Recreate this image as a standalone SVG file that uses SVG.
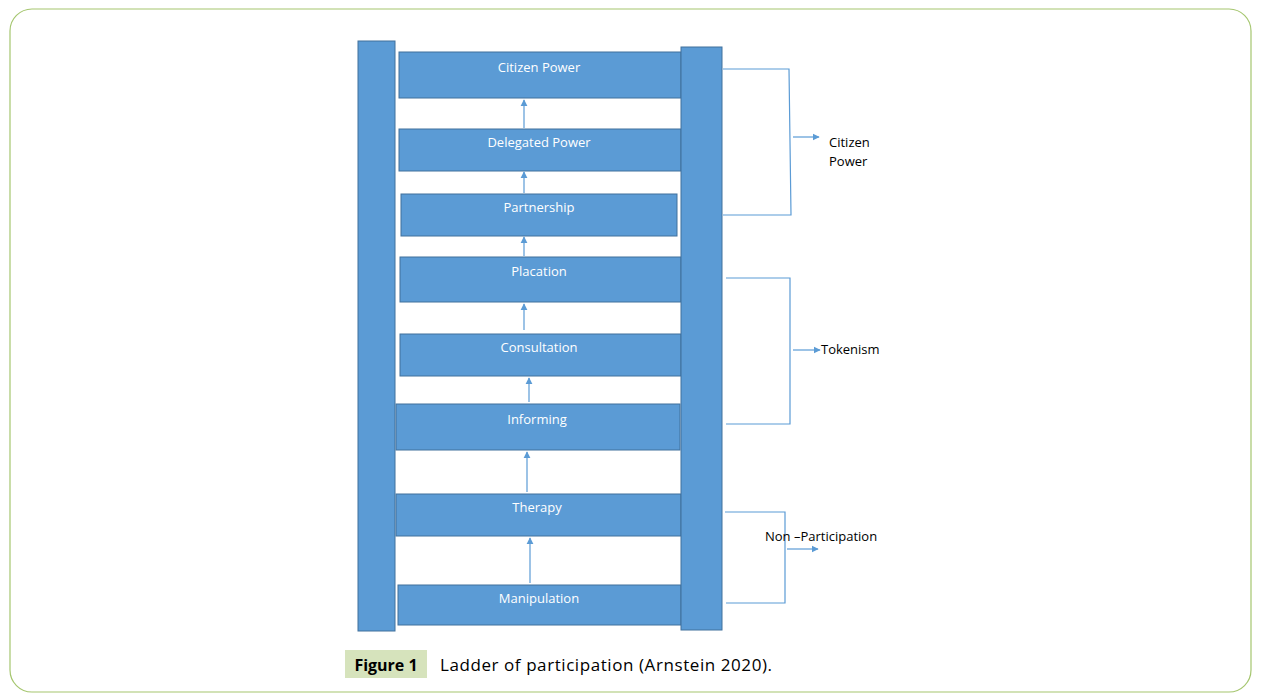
<svg xmlns="http://www.w3.org/2000/svg" width="1268" height="698" viewBox="0 0 1268 698">
<style>
.b{fill:#5b9bd5;stroke:#41719c;stroke-width:1}
.t{font-family:"Open Sans","Liberation Sans",sans-serif;font-size:13px;fill:#fff;text-anchor:middle}
.k{font-family:"Open Sans","Liberation Sans",sans-serif;font-size:13px;fill:#000}
.l{stroke:#5b9bd5;stroke-width:1.2;fill:none}
</style>
<defs><marker id="a" viewBox="0 0 10 10" refX="9" refY="5" markerWidth="6" markerHeight="6" orient="auto"><path d="M0,0L10,5L0,10z" fill="#5b9bd5"/></marker></defs>
<rect x="10" y="9" width="1241" height="683" rx="22" fill="#fff" stroke="#a5c66f" stroke-width="1.2"/>
<g id="rail-left"><rect class="b" x="358" y="41" width="37" height="590"/></g>
<g id="rung-citizen"><rect class="b" x="399" y="52" width="282" height="46"/><text class="t" x="539" y="72">Citizen Power</text></g>
<g id="rung-delegated"><rect class="b" x="399" y="129" width="282" height="42"/><text class="t" x="539" y="147">Delegated Power</text></g>
<g id="rung-partnership"><rect class="b" x="401" y="194" width="276" height="42"/><text class="t" x="539" y="212">Partnership</text></g>
<g id="rung-placation"><rect class="b" x="400" y="257" width="281" height="45"/><text class="t" x="539" y="276">Placation</text></g>
<g id="rung-consultation"><rect class="b" x="400" y="334" width="281" height="42"/><text class="t" x="539" y="352">Consultation</text></g>
<g id="rung-informing"><rect class="b" x="396" y="404" width="284" height="46"/><text class="t" x="537" y="424">Informing</text></g>
<g id="rung-therapy"><rect class="b" x="396" y="494" width="285" height="42"/><text class="t" x="537" y="512">Therapy</text></g>
<g id="rung-manipulation"><rect class="b" x="398" y="585" width="283" height="40"/><text class="t" x="539" y="603">Manipulation</text></g>
<g id="rail-right"><rect class="b" x="681" y="47" width="41" height="583"/></g>
<g id="connectors">
<path class="l" marker-end="url(#a)" d="M524 128V100"/>
<path class="l" marker-end="url(#a)" d="M524 193V172"/>
<path class="l" marker-end="url(#a)" d="M524 256V237"/>
<path class="l" marker-end="url(#a)" d="M524 330V304"/>
<path class="l" marker-end="url(#a)" d="M529 402V378"/>
<path class="l" marker-end="url(#a)" d="M527 492V452"/>
<path class="l" marker-end="url(#a)" d="M530 583V538"/>
<path class="l" d="M723 69H789L791 215H723"/>
<path class="l" marker-end="url(#a)" d="M793 137H819"/>
<path class="l" d="M726 278H790V424H726"/>
<path class="l" marker-end="url(#a)" d="M793 350H820"/>
<path class="l" d="M725 512H785V603H726"/>
<path class="l" marker-end="url(#a)" d="M787 549H818"/>
</g>
<g id="labels">
<text class="k" x="829" y="147">Citizen</text><text class="k" x="829" y="166">Power</text>
<text class="k" x="821" y="354">Tokenism</text>
<text class="k" x="765" y="541">Non –Participation</text>
</g>
<g id="caption">
<rect x="345" y="650" width="82" height="28" fill="#d6e3bc"/>
<text x="386" y="671" font-family="'Open Sans','Liberation Sans',sans-serif" font-size="16" font-weight="bold" text-anchor="middle" fill="#000">Figure 1</text>
<text x="440" y="671" font-family="'Open Sans','Liberation Sans',sans-serif" font-size="17" textLength="332" fill="#000">Ladder of participation (Arnstein 2020).</text>
</g>
</svg>
